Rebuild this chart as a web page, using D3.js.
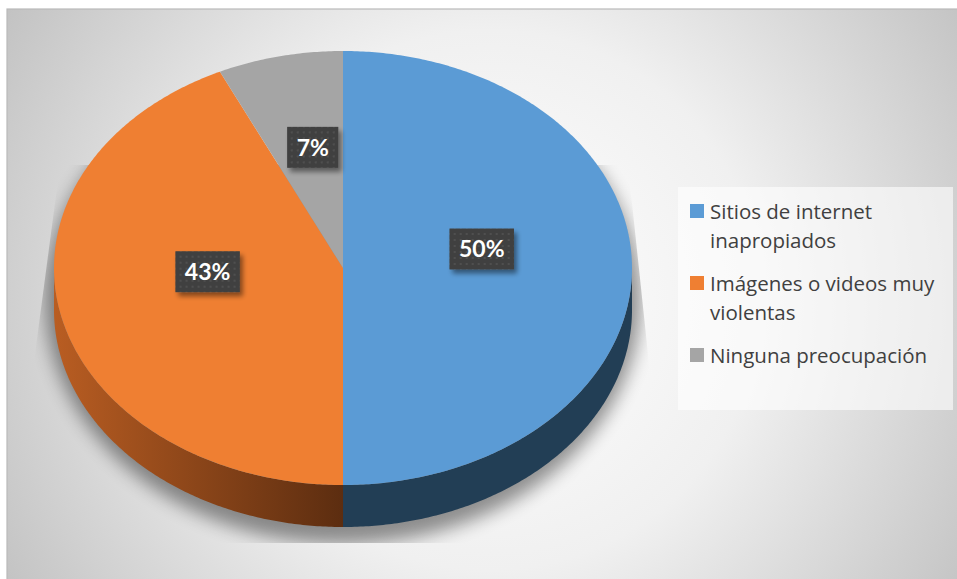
<!DOCTYPE html>
<html>
<head>
<meta charset="utf-8">
<script src="https://cdn.jsdelivr.net/npm/d3@7"></script>
<style>
  html, body { margin: 0; padding: 0; background: #ffffff; }
  svg { display: block; }
</style>
</head>
<body>
<svg id="chart" width="957" height="579"></svg>
<script>
// ---- data ----
const categories = ["Sitios de internet inapropiados", "Imágenes o videos muy violentas", "Ninguna preocupación"];
const legendLines = [["Sitios de internet", "inapropiados"], ["Imágenes o videos muy", "violentas"], ["Ninguna preocupación"]];
const values = [50, 43, 7];
const valueLabels = ["50%", "43%", "7%"];
const topColors = ["#5b9bd5", "#ef7f32", "#a5a5a5"];
const sideColors = ["#223e55", "#8a4519", "#5a5a5a"];

// ---- layout ----
const W = 957, H = 579;
const cx = 343, cy = 268, rx = 289, ry = 217, depth = 42;
const labelR = 0.48, labelShift = -19;

const svg = d3.select("#chart");
const defs = svg.append("defs");

// background gradient
const bg = defs.append("radialGradient").attr("id", "bgGrad")
  .attr("gradientUnits", "userSpaceOnUse")
  .attr("cx", 490).attr("cy", 300).attr("r", 600);
bg.append("stop").attr("offset", 0).attr("stop-color", "#ffffff");
bg.append("stop").attr("offset", 0.45).attr("stop-color", "#f0f0f0");
bg.append("stop").attr("offset", 1).attr("stop-color", "#bdbdbd");

// orange side gradient
const og = defs.append("linearGradient").attr("id", "sideOrange")
  .attr("gradientUnits", "userSpaceOnUse")
  .attr("x1", cx - rx).attr("y1", 0).attr("x2", cx).attr("y2", 0);
og.append("stop").attr("offset", 0).attr("stop-color", "#b95d22");
og.append("stop").attr("offset", 1).attr("stop-color", "#5c2d10");

// blur for shadow
const blur = defs.append("filter").attr("id", "blurShadow")
  .attr("x", "-20%").attr("y", "-20%").attr("width", "140%").attr("height", "140%");
blur.append("feGaussianBlur").attr("stdDeviation", 9);

// label drop shadow
const ds = defs.append("filter").attr("id", "labelShadow")
  .attr("x", "-30%").attr("y", "-30%").attr("width", "160%").attr("height", "160%");
ds.append("feGaussianBlur").attr("in", "SourceAlpha").attr("stdDeviation", 2.5).attr("result", "b");
ds.append("feOffset").attr("in", "b").attr("dx", 3).attr("dy", 4).attr("result", "o");
ds.append("feComponentTransfer").attr("in", "o").attr("result", "o2")
  .append("feFuncA").attr("type", "linear").attr("slope", 0.45);
const mg = ds.append("feMerge");
mg.append("feMergeNode").attr("in", "o2");
mg.append("feMergeNode").attr("in", "SourceGraphic");

// dotted pattern for label boxes
const pat = defs.append("pattern").attr("id", "dots")
  .attr("patternUnits", "userSpaceOnUse").attr("width", 6).attr("height", 6);
pat.append("rect").attr("width", 6).attr("height", 6).attr("fill", "#404040");
pat.append("circle").attr("cx", 3).attr("cy", 3).attr("r", 1).attr("fill", "#555555");

// floor clip (trapezoid)
defs.append("clipPath").attr("id", "floorClip")
  .append("polygon").attr("points", "60,165 628,165 668,543 10,543");

// background
svg.append("rect").attr("x", 7).attr("y", 9).attr("width", W).attr("height", H)
  .attr("fill", "url(#bgGrad)").attr("stroke", "#b9b9b9").attr("stroke-width", 1.2);

// ---- pie geometry ----
const pie = d3.pie().sort(null).value(d => d)(values);
const pt = (a, dy = 0) => [cx + rx * Math.sin(a), cy - ry * Math.cos(a) + dy];
const arcPts = (a0, a1, dy = 0) => {
  const n = Math.max(2, Math.ceil((a1 - a0) / 0.01));
  return d3.range(n + 1).map(i => pt(a0 + (a1 - a0) * i / n, dy));
};
const line = d3.line();

// shadow
svg.append("g").attr("clip-path", "url(#floorClip)")
  .append("ellipse")
  .attr("cx", cx).attr("cy", cy + depth / 2 + 10)
  .attr("rx", rx + 9).attr("ry", ry + depth / 2 + 7)
  .attr("fill", "#000").attr("opacity", 0.42)
  .attr("filter", "url(#blurShadow)");

// sides
const sides = svg.append("g");
pie.forEach((d, i) => {
  const s = Math.max(d.startAngle, Math.PI / 2);
  const e = Math.min(d.endAngle, 3 * Math.PI / 2);
  if (e <= s) return;
  const pts = arcPts(s, e, 0).concat(arcPts(s, e, depth).reverse());
  sides.append("path").attr("d", line(pts) + "Z")
    .attr("fill", i === 1 ? "url(#sideOrange)" : sideColors[i]);
});

// top faces
const tops = svg.append("g");
pie.forEach((d, i) => {
  const pts = [[cx, cy]].concat(arcPts(d.startAngle, d.endAngle));
  tops.append("path").attr("d", line(pts) + "Z").attr("fill", topColors[i]);
});

// data labels
const lab = svg.append("g");
pie.forEach((d, i) => {
  const mid = (d.startAngle + d.endAngle) / 2;
  const lx = cx + labelR * rx * Math.sin(mid);
  const ly = cy + labelShift - labelR * ry * Math.cos(mid);
  const g = lab.append("g").attr("transform", `translate(${lx},${ly})`);
  const box = g.append("rect").attr("fill", "url(#dots)").attr("filter", "url(#labelShadow)");
  const t = g.append("text").attr("text-anchor", "middle").attr("dy", "0.36em")
    .attr("font-family", "Lato, 'Open Sans', sans-serif").attr("font-weight", "bold")
    .attr("font-size", 23).attr("fill", "#ffffff").text(valueLabels[i]);
  const w = t.node().getComputedTextLength() + 19;
  const h = 41;
  box.attr("x", -w / 2).attr("y", -h / 2).attr("width", w).attr("height", h);
});

// legend
const legend = svg.append("g");
legend.append("rect").attr("x", 678).attr("y", 187).attr("width", 275).attr("height", 223)
  .attr("fill", "#ffffff").attr("opacity", 0.6);
const lineH = 29, itemGap = 14;
let yCursor = 219;
categories.forEach((c, i) => {
  const g = legend.append("g");
  g.append("rect").attr("x", 690).attr("y", yCursor - 15).attr("width", 14).attr("height", 14)
    .attr("fill", topColors[i]);
  legendLines[i].forEach((ln, j) => {
    g.append("text").attr("x", 710).attr("y", yCursor + j * lineH)
      .attr("font-family", "'Open Sans', Lato, sans-serif").attr("font-size", 20.5)
      .attr("fill", "#404040").text(ln);
  });
  yCursor += 2 * lineH + itemGap;
});
</script>
</body>
</html>
